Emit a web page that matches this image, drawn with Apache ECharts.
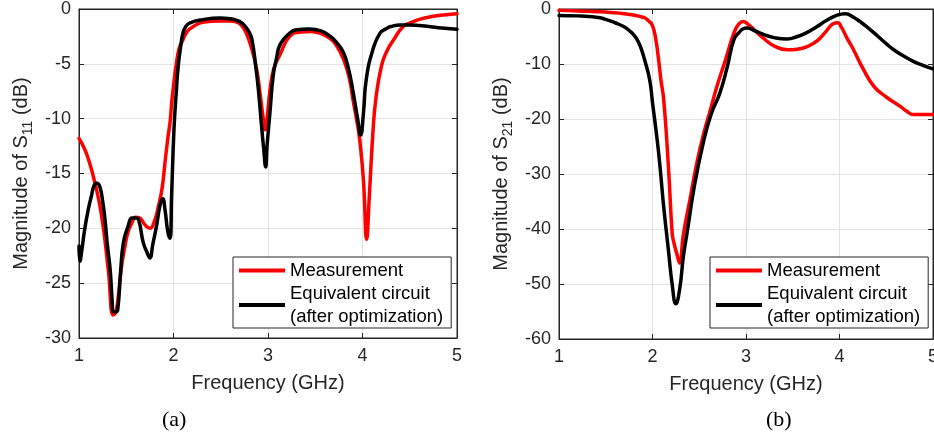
<!DOCTYPE html>
<html>
<head>
<meta charset="utf-8">
<script src="https://cdn.jsdelivr.net/npm/echarts@6/dist/echarts.min.js"></script>
<style>
html,body{margin:0;padding:0;background:#fff;}
#chart{width:934px;height:439px;}
</style>
</head>
<body>
<div id="chart"></div>
<script>
// ---------- DATA ----------
const seriesNames = ['Measurement', 'Equivalent circuit\n(after optimization)'];

// (a) Magnitude of S11 (dB) vs frequency (GHz)
const s11Measurement = [
  [1.0,-11.8],[1.05,-12.6],[1.10,-13.7],[1.17,-15.9],[1.24,-18.9],[1.31,-23.8],[1.363,-27.9],
  [1.39,-27.6],[1.416,-26.2],[1.45,-23.5],[1.487,-21.6],[1.52,-20.3],[1.56,-19.5],[1.60,-19.0],
  [1.64,-19.05],[1.70,-19.7],[1.75,-20.0],[1.80,-19.3],[1.84,-18.0],[1.88,-16.3],[1.91,-14.0],
  [1.94,-11.8],[1.965,-10.2],[1.98,-8.6],[2.00,-7.0],[2.03,-5.0],[2.06,-3.6],[2.10,-2.8],
  [2.15,-2.0],[2.21,-1.6],[2.31,-1.2],[2.49,-1.1],[2.60,-1.1],[2.67,-1.2],[2.72,-1.5],
  [2.77,-2.2],[2.83,-3.7],[2.88,-5.5],[2.92,-8.0],[2.95,-10.0],[2.97,-11.0],[2.99,-10.0],
  [3.02,-7.5],[3.06,-5.5],[3.13,-4.1],[3.23,-2.5],[3.35,-2.1],[3.45,-2.05],[3.55,-2.2],
  [3.66,-2.7],[3.73,-3.4],[3.80,-4.6],[3.86,-6.3],[3.90,-8.3],[3.94,-10.2],[3.97,-11.9],
  [4.01,-15.6],[4.044,-21.0],[4.07,-17.4],[4.11,-11.3],[4.14,-8.3],[4.20,-5.2],[4.26,-3.8],
  [4.33,-2.8],[4.43,-1.6],[4.50,-1.28],[4.62,-0.9],[4.75,-0.67],[4.88,-0.52],[5.0,-0.43]
];
const s11Circuit = [
  [1.0,-21.6],[1.01,-23.0],[1.03,-22.0],[1.06,-20.1],[1.10,-18.2],[1.13,-17.1],[1.16,-16.1],
  [1.19,-15.9],[1.22,-16.2],[1.25,-17.5],[1.275,-19.2],[1.30,-21.5],[1.33,-23.8],[1.35,-26.5],
  [1.363,-27.6],[1.39,-27.6],[1.41,-27.4],[1.44,-24.0],[1.47,-21.3],[1.52,-19.8],[1.56,-19.05],
  [1.60,-19.05],[1.63,-19.2],[1.68,-21.3],[1.72,-22.2],[1.75,-22.7],[1.78,-21.5],[1.82,-19.8],
  [1.86,-17.8],[1.886,-17.3],[1.91,-18.3],[1.94,-20.3],[1.963,-20.9],[1.98,-17.0],[2.005,-11.0],
  [2.03,-7.5],[2.05,-5.2],[2.08,-3.2],[2.10,-2.2],[2.13,-1.6],[2.17,-1.28],[2.31,-0.97],
  [2.49,-0.82],[2.60,-0.88],[2.67,-1.04],[2.72,-1.25],[2.76,-1.6],[2.80,-2.1],[2.83,-2.8],
  [2.87,-5.2],[2.90,-7.5],[2.93,-10.5],[2.955,-12.8],[2.975,-14.4],[2.99,-12.5],[3.02,-9.5],
  [3.056,-6.0],[3.09,-4.5],[3.13,-3.2],[3.23,-2.2],[3.30,-1.9],[3.44,-1.83],[3.56,-2.0],
  [3.66,-2.5],[3.74,-3.2],[3.80,-4.0],[3.85,-5.4],[3.89,-7.05],[3.95,-10.1],[3.98,-11.5],
  [4.01,-9.5],[4.04,-6.4],[4.11,-3.7],[4.185,-2.2],[4.25,-1.8],[4.30,-1.6],[4.40,-1.45],
  [4.50,-1.45],[4.60,-1.5],[4.70,-1.6],[4.80,-1.7],[4.90,-1.78],[5.0,-1.85]
];

// (b) Magnitude of S21 (dB) vs frequency (GHz)
const s21Measurement = [
  [1.0,-0.25],[1.2,-0.35],[1.4,-0.5],[1.5,-0.55],[1.65,-0.75],[1.78,-1.04],[1.85,-1.3],
  [1.92,-1.64],[1.96,-2.2],[1.995,-2.85],[2.03,-5.0],[2.065,-9.2],[2.09,-12.9],[2.12,-16.5],
  [2.17,-28.6],[2.21,-40.7],[2.226,-42.3],[2.26,-44.5],[2.29,-46.2],[2.33,-41.0],[2.40,-34.7],
  [2.48,-27.5],[2.55,-22.5],[2.62,-18.3],[2.69,-14.0],[2.78,-9.3],[2.87,-4.4],[2.92,-2.8],
  [2.97,-2.25],[3.01,-2.6],[3.10,-4.0],[3.20,-5.5],[3.30,-6.7],[3.44,-7.4],[3.55,-7.3],
  [3.66,-6.8],[3.76,-5.8],[3.85,-4.2],[3.94,-2.6],[3.98,-2.5],[4.02,-3.3],[4.08,-5.3],
  [4.15,-7.4],[4.25,-10.8],[4.37,-14.1],[4.50,-16.0],[4.65,-17.7],[4.72,-18.6],[4.79,-19.2],
  [4.90,-19.2],[5.0,-19.2]
];
const s21Circuit = [
  [1.0,-1.16],[1.2,-1.25],[1.32,-1.35],[1.44,-1.6],[1.53,-2.07],[1.60,-2.5],[1.67,-3.0],
  [1.73,-3.6],[1.78,-4.36],[1.83,-5.4],[1.87,-6.8],[1.92,-9.5],[1.97,-12.9],[2.0,-17.0],
  [2.05,-23.8],[2.08,-28.6],[2.12,-36.0],[2.17,-43.8],[2.21,-50.0],[2.25,-53.6],[2.29,-51.0],
  [2.33,-45.0],[2.37,-40.7],[2.45,-32.0],[2.55,-23.8],[2.63,-19.0],[2.72,-15.3],[2.80,-10.5],
  [2.87,-5.6],[2.93,-4.2],[2.97,-3.6],[3.01,-3.45],[3.10,-4.0],[3.20,-4.7],[3.30,-5.2],
  [3.44,-5.45],[3.55,-5.0],[3.66,-4.2],[3.76,-3.2],[3.85,-2.2],[3.95,-1.3],[4.06,-0.85],
  [4.15,-1.5],[4.22,-2.3],[4.29,-3.2],[4.40,-4.8],[4.50,-6.3],[4.58,-7.4],[4.70,-8.7],
  [4.80,-9.6],[4.90,-10.3],[5.0,-10.9]
];

const freqRange = [1, 5, 1];          // min, max, interval
const s11Range = [-30, 0, 5];
const s21Range = [-60, 0, 10];

// ---------- CHART ----------
const FONT = 'Liberation Sans, Arial, sans-serif';
const AX = '#262626';
const chart = echarts.init(document.getElementById('chart'), null, {renderer: 'canvas'});

function xAxisDef(gi) {
  return {
    type: 'value', gridIndex: gi, min: freqRange[0], max: freqRange[1], interval: freqRange[2],
    name: 'Frequency (GHz)', nameLocation: 'middle', nameGap: 35,
    nameTextStyle: {fontFamily: FONT, fontSize: 20, color: AX},
    axisLine: {show: true, onZero: false, lineStyle: {color: AX, width: 1}},
    axisTick: {show: true, inside: true, length: 5, lineStyle: {color: AX}},
    axisLabel: {fontFamily: FONT, fontSize: 18, color: AX, margin: 9},
    splitLine: {show: true, lineStyle: {color: '#e3e3e3', width: 1}}
  };
}
function xTopDef(gi) {
  return {
    type: 'value', gridIndex: gi, position: 'top', min: freqRange[0], max: freqRange[1], interval: freqRange[2],
    axisLine: {show: true, onZero: false, lineStyle: {color: AX, width: 1}},
    axisTick: {show: true, inside: true, length: 5, lineStyle: {color: AX}},
    axisLabel: {show: false}, splitLine: {show: false}
  };
}
function yAxisDef(gi, range, sub) {
  return {
    type: 'value', gridIndex: gi, min: range[0], max: range[1], interval: range[2],
    name: '{t|Magnitude of S}{s|' + sub + '}{t| (dB)}', nameLocation: 'middle', nameRotate: 90, nameGap: 44,
    nameTextStyle: {
      fontFamily: FONT, fontSize: 20, color: AX,
      rich: {
        t: {fontFamily: FONT, fontSize: 20, color: AX, lineHeight: 28},
        s: {fontFamily: FONT, fontSize: 14, color: AX, lineHeight: 14, verticalAlign: 'bottom'}
      }
    },
    axisLine: {show: true, onZero: false, lineStyle: {color: AX, width: 1}},
    axisTick: {show: true, inside: true, length: 5, lineStyle: {color: AX}},
    axisLabel: {fontFamily: FONT, fontSize: 18, color: AX, margin: 8},
    splitLine: {show: true, lineStyle: {color: '#e3e3e3', width: 1}}
  };
}
function yRightDef(gi, range) {
  return {
    type: 'value', gridIndex: gi, position: 'right', min: range[0], max: range[1], interval: range[2],
    axisLine: {show: true, onZero: false, lineStyle: {color: AX, width: 1}},
    axisTick: {show: true, inside: true, length: 5, lineStyle: {color: AX}},
    axisLabel: {show: false}, splitLine: {show: false}
  };
}
function lineSeries(name, data, gi, color) {
  return {
    type: 'line', name: name, data: data, xAxisIndex: gi, yAxisIndex: gi,
    showSymbol: false, symbol: 'none', smooth: 0.5,
    lineStyle: {color: color, width: 3.5, join: 'round', cap: 'round'}, itemStyle: {color: color},
    emphasis: {disabled: true}, z: color === '#000000' ? 3 : 2
  };
}
function legendDef(left) {
  return {
    data: seriesNames, orient: 'vertical', left: left, top: 257,
    icon: 'rect', itemWidth: 46, itemHeight: 4, itemGap: 0,
    padding: [2, 8, 0, 6], borderColor: AX, borderWidth: 1, backgroundColor: '#ffffff',
    textStyle: {fontFamily: FONT, fontSize: 18.5, lineHeight: 23, color: '#000'},
    selectedMode: false, z: 10
  };
}

chart.setOption({
  animation: false,
  backgroundColor: '#ffffff',
  grid: [
    {left: 79, top: 9, width: 378, height: 329, outerBoundsMode: 'none', containLabel: false,
     show: true, borderColor: AX, borderWidth: 1, backgroundColor: 'transparent'},
    {left: 559, top: 9, width: 374, height: 330, outerBoundsMode: 'none', containLabel: false,
     show: true, borderColor: AX, borderWidth: 1, backgroundColor: 'transparent'}
  ],
  xAxis: [xAxisDef(0), xAxisDef(1), xTopDef(0), xTopDef(1)],
  yAxis: [yAxisDef(0, s11Range, '11'), yAxisDef(1, s21Range, '21'), yRightDef(0, s11Range), yRightDef(1, s21Range)],
  legend: [legendDef(233), legendDef(710)],
  series: [
    lineSeries(seriesNames[0], s11Measurement, 0, '#ff0000'),
    lineSeries(seriesNames[1], s11Circuit, 0, '#000000'),
    lineSeries(seriesNames[0], s21Measurement, 1, '#ff0000'),
    lineSeries(seriesNames[1], s21Circuit, 1, '#000000')
  ],
  graphic: [
    {type: 'text', left: 162, top: 409, style: {text: '(a)', font: '22px "Liberation Serif", "Times New Roman", serif', fill: '#000'}},
    {type: 'text', left: 766, top: 409, style: {text: '(b)', font: '22px "Liberation Serif", "Times New Roman", serif', fill: '#000'}}
  ]
});
</script>
</body>
</html>
